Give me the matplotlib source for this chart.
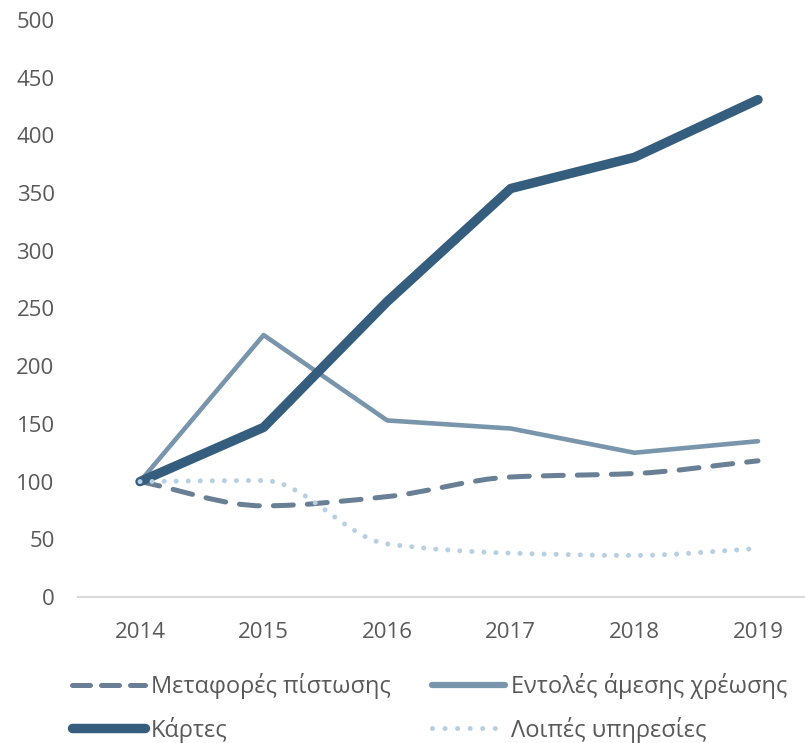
import matplotlib
matplotlib.use("Agg")
import matplotlib.pyplot as plt
from matplotlib.path import Path
from matplotlib.patches import PathPatch
from matplotlib.lines import Line2D
import numpy as np

plt.rcParams['font.family'] = ['Open Sans', 'DejaVu Sans']

years = ["2014", "2015", "2016", "2017", "2018", "2019"]
metafores = [100, 79, 87, 104, 107, 118]
entoles = [100, 227, 153, 146, 125, 135]
kartes = [100, 147, 256, 354, 381, 431]
loipes = [100, 101, 46, 38, 36, 42]
y_ticks = [0, 50, 100, 150, 200, 250, 300, 350, 400, 450, 500]

labels = ["Μεταφορές πίστωσης", "Εντολές άμεσης χρέωσης", "Κάρτες", "Λοιπές υπηρεσίες"]
colors = ["#687f95", "#7895ab", "#345d7e", "#b7cfe2"]

fig = plt.figure(figsize=(8.05, 7.43), dpi=100)
left = 78.2 / 805
ax = fig.add_axes([left, 146 / 743, 1 - left, (597 - 20) / 743])

x = np.arange(len(years))


def monotone_slopes(xs, ys):
    xs = np.asarray(xs, float)
    ys = np.asarray(ys, float)
    h = np.diff(xs)
    d = np.diff(ys) / h
    n = len(xs)
    m = np.zeros(n)
    m[0] = d[0]
    m[-1] = d[-1]
    for i in range(1, n - 1):
        if d[i - 1] * d[i] <= 0:
            m[i] = 0.0
        else:
            m[i] = 2.0 / (1.0 / d[i - 1] + 1.0 / d[i])
    return m


def smooth_path(xs, ys):
    xs = np.asarray(xs, float)
    ys = np.asarray(ys, float)
    m = monotone_slopes(xs, ys)
    verts = [(xs[0], ys[0])]
    codes = [Path.MOVETO]
    for i in range(len(xs) - 1):
        h = xs[i + 1] - xs[i]
        c1 = (xs[i] + h / 3, ys[i] + m[i] * h / 3)
        c2 = (xs[i + 1] - h / 3, ys[i + 1] - m[i + 1] * h / 3)
        verts += [c1, c2, (xs[i + 1], ys[i + 1])]
        codes += [Path.CURVE4] * 3
    return Path(verts, codes)


dash_style = (0, (4.0, 2.8))
dot_style = (0, (0.01, 2.4))

# Metaforés (smoothed, dashed)
ax.add_patch(PathPatch(smooth_path(x, metafores), fill=False, edgecolor=colors[0],
                       lw=3.6, linestyle=dash_style, capstyle='round', zorder=2))
# Entolés (straight)
ax.plot(x, entoles, color=colors[1], lw=3.3, solid_capstyle='round',
        solid_joinstyle='round', zorder=3)
# Kártes (straight, thick)
ax.plot(x, kartes, color=colors[2], lw=6.8, solid_capstyle='round',
        solid_joinstyle='round', zorder=4)
# Loipés (smoothed, dotted)
ax.add_patch(PathPatch(smooth_path(x, loipes), fill=False, edgecolor=colors[3],
                       lw=3.6, linestyle=dot_style, capstyle='round', zorder=5))

ax.set_xlim(-0.5, (805 - 140) / 123.6)
ax.set_ylim(0, 500)
ax.set_xticks(x)
ax.set_xticklabels(years)
ax.set_yticks(y_ticks)
ax.tick_params(axis='both', length=0, labelsize=16, labelcolor='#595959')
ax.tick_params(axis='x', pad=18)
ax.tick_params(axis='y', pad=17)
for s in ['top', 'right', 'left']:
    ax.spines[s].set_visible(False)
ax.spines['bottom'].set_color('#d9d9d9')
ax.spines['bottom'].set_linewidth(1.5)

handles = [
    Line2D([], [], color=colors[0], lw=3.6, linestyle=(0, (3.6, 2.2)), dash_capstyle='round'),
    Line2D([], [], color=colors[1], lw=4.5, solid_capstyle='round'),
    Line2D([], [], color=colors[2], lw=6.8, solid_capstyle='round'),
    Line2D([], [], color=colors[3], lw=3.6, linestyle=(0, (0.01, 2.5)), dash_capstyle='round'),
]
# legend is filled column-major; order so that rows read as in the reference
order = [0, 2, 1, 3]
leg = fig.legend([handles[i] for i in order], [labels[i] for i in order], ncol=2,
                 loc='upper left', bbox_to_anchor=(72 / 805, 1 - 673 / 743),
                 frameon=False, fontsize=17, handlelength=3.1, handletextpad=0.25,
                 columnspacing=1.75, labelspacing=0.75, borderaxespad=0, borderpad=0)
for t in leg.get_texts():
    t.set_color('#595959')

fig.savefig("out.png", dpi=100)
